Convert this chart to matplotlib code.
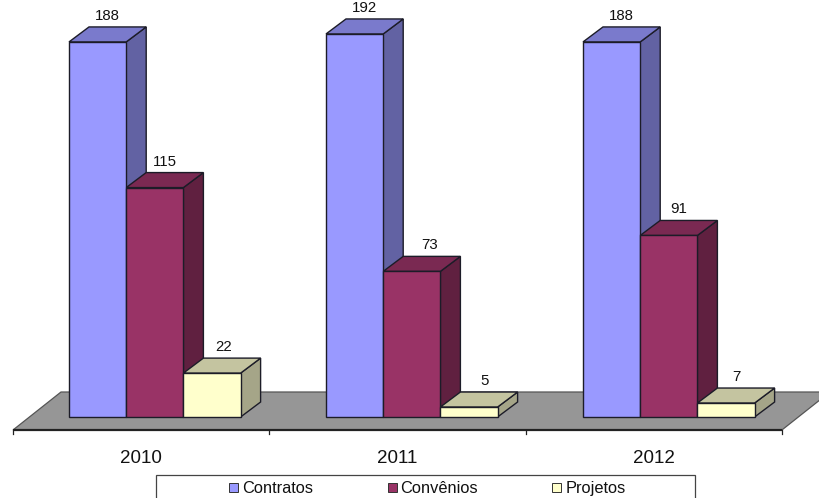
import matplotlib
matplotlib.use('Agg')
import matplotlib.pyplot as plt
from matplotlib.patches import Polygon, Rectangle
from matplotlib.transforms import Affine2D

years = ['2010', '2011', '2012']
series = ['Contratos', 'Convênios', 'Projetos']
contratos = [188, 192, 188]
convenios = [115, 73, 91]
projetos = [22, 5, 7]

# front, top, side
colors = [('#9999FF', '#7A7ACC', '#6262A3'),
          ('#993366', '#7A2952', '#602040'),
          ('#FFFFCC', '#C4C4A0', '#A5A588')]

plt.rcParams['font.family'] = ['Liberation Sans', 'DejaVu Sans']

W, H = 819, 498
fig = plt.figure(figsize=(W / 100, H / 100), dpi=100)
ax = fig.add_axes([0, 0, 1, 1])

# one category = 257 px, one unit of value = 1.995 px, base of the bars at y=417 px
px_x = 257.0
px_y = 1.995
ax.set_xlim(-140.5 / px_x, (W - 140.5) / px_x)
ax.set_ylim(-(H - 417) / px_y, 417 / px_y)
ax.axis('off')

bar_w = 57.2 / px_x
bar_start = -71.5 / px_x
depth_x = 20 / px_x
depth_y = 15 / px_y
edge = '#1C1C28'

# floor and its axis are a touch narrower than the bar spacing
band = 256.3 / px_x
floor_y = -13 / px_y
floor_dx = 48 / px_x
floor_dy = 38 / px_y
floor_l = -127.5 / px_x
floor_r = floor_l + 3 * band
ax.add_patch(Polygon([(floor_l, floor_y), (floor_r, floor_y),
                      (floor_r + floor_dx, floor_y + floor_dy),
                      (floor_l + floor_dx, floor_y + floor_dy)],
                     facecolor='#969696', edgecolor='#555555', lw=0.9, zorder=1))
ax.plot([floor_l, floor_r], [floor_y, floor_y], color='#222222', lw=1.6, zorder=2,
        solid_capstyle='butt')
for k in range(4):
    t = floor_l + k * band
    ax.plot([t, t], [floor_y, floor_y - 4 / px_y], color='#222222', lw=0.9, zorder=2)
for i, y in enumerate(years):
    ax.text(floor_l + (i + 0.5) * band, -41 / px_y, y, ha='center', va='center',
            fontsize=13.5, color='#111111', zorder=6)

# hand placed data labels in the original, px to the right
label_nudge = {(1, 1): 8, (1, 2): 6, (0, 2): 2}


def draw_bar(x, v, cols, nudge):
    ax.add_patch(Polygon([(x + bar_w, 0), (x + bar_w + depth_x, depth_y),
                          (x + bar_w + depth_x, v + depth_y), (x + bar_w, v)],
                         facecolor=cols[2], edgecolor=edge, lw=1.0, zorder=3))
    ax.add_patch(Polygon([(x, v), (x + bar_w, v), (x + bar_w + depth_x, v + depth_y),
                          (x + depth_x, v + depth_y)],
                         facecolor=cols[1], edgecolor=edge, lw=1.0, zorder=3))
    ax.add_patch(Rectangle((x, 0), bar_w, v, facecolor=cols[0], edgecolor=edge,
                           lw=1.0, zorder=3))
    ax.text(x + bar_w / 2 + depth_x / 2 + nudge / px_x, v + depth_y + 11 / px_y, str(v),
            ha='center', va='center', fontsize=10.8, color='#111111', zorder=6)


for i in range(len(years)):
    for j, vals in enumerate([contratos, convenios, projetos]):
        draw_bar(i + bar_start + j * bar_w, vals[i], colors[j], label_nudge.get((i, j), 0))

# legend box runs off the bottom of the picture, placed in pixels
to_px = Affine2D().scale(1, -1).translate(0, H)
box = Rectangle((156, 475), 539, 40, facecolor='white', edgecolor='#444444', lw=0.9,
                transform=to_px, zorder=7, clip_on=False)
fig.add_artist(box)
legend_x = [229, 388, 552]
text_x = [242, 400, 566]
for j, name in enumerate(series):
    fig.add_artist(Rectangle((legend_x[j], 483), 9, 9, facecolor=colors[j][0],
                             edgecolor='#333333', lw=0.7, transform=to_px, zorder=8))
    fig.text(text_x[j], 488, name, ha='left', va='center', fontsize=11.8,
             color='#111111', transform=to_px, zorder=8)

fig.savefig('out.png', dpi=100)
